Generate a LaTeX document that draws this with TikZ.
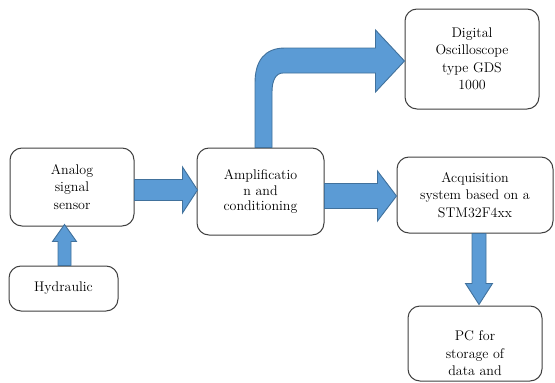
\documentclass[tikz,border=0pt]{standalone}
\usetikzlibrary{calc}
\def\fsz{14}
\definecolor{arrfill}{RGB}{91,155,213}
\definecolor{arrline}{RGB}{65,113,156}
\definecolor{boxline}{RGB}{64,64,64}
\tikzset{
  box/.style={draw=boxline, line width=1pt, rounded corners=12pt, fill=white,
    align=center, inner sep=0pt, font=\rmfamily\fontsize{\fsz}{17.5}\selectfont},
  barrow/.style={fill=arrfill, draw=arrline, line width=0.9pt, line join=miter},
}
% straight block arrows: #1 start, #2 end, #3 shaft half width, #4 head half width, #5 head length
\newcommand\uparrowblk[5]{\path[barrow] let \p1=#1, \p2=#2 in
  (\x1-#3pt,\y1) -- (\x1-#3pt,\y2-#5pt) -- (\x1-#4pt,\y2-#5pt) -- (\x1,\y2)
  -- (\x1+#4pt,\y2-#5pt) -- (\x1+#3pt,\y2-#5pt) -- (\x1+#3pt,\y1) -- cycle;}
\newcommand\downarrowblk[5]{\path[barrow] let \p1=#1, \p2=#2 in
  (\x1-#3pt,\y1) -- (\x1-#3pt,\y2+#5pt) -- (\x1-#4pt,\y2+#5pt) -- (\x1,\y2)
  -- (\x1+#4pt,\y2+#5pt) -- (\x1+#3pt,\y2+#5pt) -- (\x1+#3pt,\y1) -- cycle;}
\newcommand\rightarrowblk[5]{\path[barrow] let \p1=#1, \p2=#2 in
  (\x1,\y1+#3pt) -- (\x2-#5pt,\y1+#3pt) -- (\x2-#5pt,\y1+#4pt) -- (\x2,\y1)
  -- (\x2-#5pt,\y1-#4pt) -- (\x2-#5pt,\y1-#3pt) -- (\x1,\y1-#3pt) -- cycle;}
\begin{document}
\begin{tikzpicture}[x=1pt,y=-1pt]
\useasboundingbox (0,0) rectangle (555,383);
\node[box, minimum width=124pt, minimum height=78pt] (an) at (72,187) {Analog\\signal\\sensor};
\node[box, minimum width=109pt, minimum height=45pt] (hyd) at (63.5,288.5) {Hydraulic};
\node[box, minimum width=127pt, minimum height=87pt, font=\rmfamily\fontsize{\fsz}{15.5}\selectfont] (amp) at (260.5,191.5) {Amplificatio\\n and\\conditioning};
\node[box, minimum width=134pt, minimum height=100pt] (osc) at (472,59) {Digital\\Oscilloscope\\type GDS\\1000};
\node[box, minimum width=156pt, minimum height=76pt] (acq) at (475,195) {Acquisition\\system based on a\\STM32F4xx};
\node[box, minimum width=134pt, minimum height=75pt] (pc) at (475,343.5) {\strut\\PC for\\storage of\\data and};
% arrows
\uparrowblk{($(hyd.north)+(1,0)$)}{($(an.south)+(0,-2)$)}{6.5}{12}{17}
\rightarrowblk{($(an.east)+(0,3)$)}{($(amp.west)+(1,0)$)}{10.5}{23}{15}
\rightarrowblk{($(amp.east)+(0,4.5)$)}{(acq.west)}{12.5}{25}{19}
\downarrowblk{($(acq.south)+(4,0)$)}{($(pc.north)+(0,-1)$)}{7}{13.5}{21}
% bent arrow amp -> osc
\path[barrow] let \p1=($(amp.north)+(3,0)$), \p2=($(osc.west)+(0,2)$) in
  (\x1-8.5pt,\y1) -- (\x1-8.5pt,\y2-22pt)
  .. controls (\x1-8.5pt,\y2) and (\x1+1pt,\y2+13pt) .. (\x1+21.5pt,\y2+13pt)
  -- (\x2-29pt,\y2+13pt) -- (\x2-29pt,\y2+31pt) -- (\x2,\y2)
  -- (\x2-29pt,\y2-31pt) -- (\x2-29pt,\y2-12pt) -- (\x1+19.5pt,\y2-12pt)
  .. controls (\x1+12pt,\y2-12pt) and (\x1+8.5pt,\y2-20pt) .. (\x1+8.5pt,\y2-31pt)
  -- (\x1+8.5pt,\y1) -- cycle;
\end{tikzpicture}
\end{document}
